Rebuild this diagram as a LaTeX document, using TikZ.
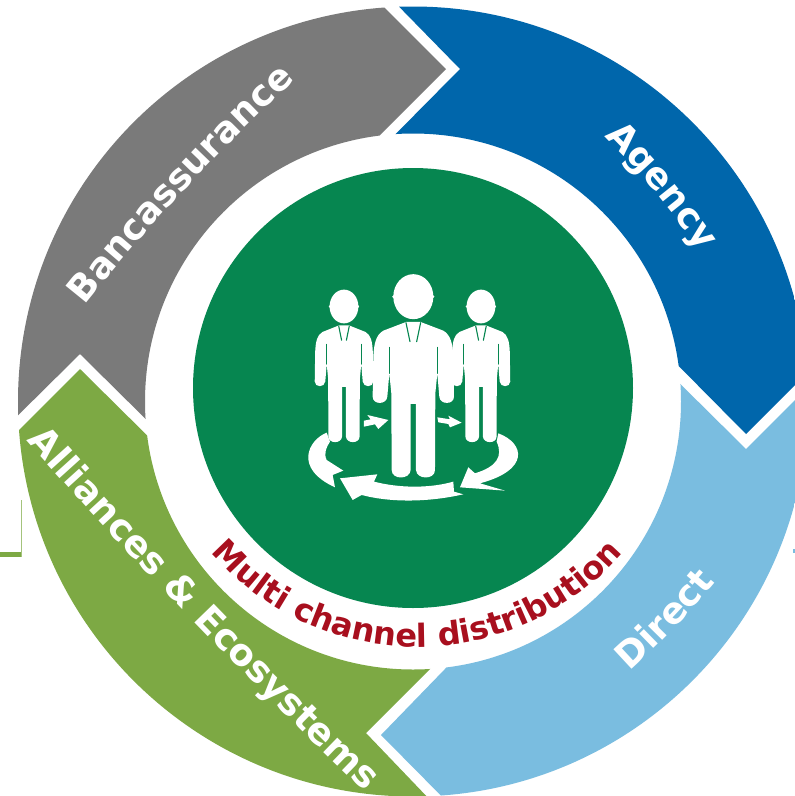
\documentclass[tikz,border=0pt]{standalone}
\usepackage{fontspec}
\setmainfont{DejaVu Sans}
\font\ringbig="DejaVu Sans Bold" at 36.5pt
\font\ringlong="DejaVu Sans Bold" at 37pt
\font\ringsmall="DejaVu Sans Bold" at 32pt
\usetikzlibrary{calc}
\definecolor{cgray}{HTML}{7A7A7A}
\definecolor{cblue}{HTML}{0066AB}
\definecolor{clight}{HTML}{7ABDE0}
\definecolor{cgreen}{HTML}{7DA944}
\definecolor{cdisc}{HTML}{068650}
\definecolor{cred}{HTML}{A80F1E}
\tikzset{
  iconfill/.style={fill=white,draw=none},
  slit/.style={draw=cdisc,line width=1.1pt,line cap=round},
  glyph/.style={inner sep=0pt,outer sep=0pt,anchor=base}
}
\newlength{\glyphw}
% \arcword{cx,cy}{radius}{centre angle}{dir: -1 cw, tops out; 1 ccw, tops in}{font}{colour}{char list}
\newcommand{\arcword}[7]{%
  \gdef\arcsum{0}%
  \foreach \ch in {#7}{%
    \glyphw=\fontcharwd#5\expandafter`\ch\relax
    \pgfmathsetmacro{\tmpv}{\arcsum+\glyphw}%
    \xdef\arcsum{\tmpv}%
  }%
  \pgfmathsetmacro{\tmpv}{#3-(#4)*\arcsum/2/#2*57.29578}%
  \xdef\arcang{\tmpv}%
  \foreach \ch in {#7}{%
    \glyphw=\fontcharwd#5\expandafter`\ch\relax
    \pgfmathsetmacro{\midang}{\arcang+(#4)*\glyphw/2/#2*57.29578}%
    \pgfmathsetmacro{\rotang}{\midang+(#4)*90}%
    \node[glyph,rotate=\rotang,text=#6] at ($(#1)+(\midang:#2pt)$) {#5\ch};
    \pgfmathsetmacro{\tmpv}{\arcang+(#4)*\glyphw/#2*57.29578}%
    \xdef\arcang{\tmpv}%
  }%
}
\newcommand{\manshape}{%
  \fill[iconfill] (0,110) ellipse[x radius=20pt,y radius=22.5pt];
  \fill[iconfill] (-59,110) circle[radius=1.5pt];
  \fill[iconfill] (59,110) circle[radius=1.5pt];
  \fill[iconfill] (-22,186) -- (-90,212) .. controls (-112,225) and (-118,250) .. (-120,290)
    -- (-122,410) .. controls (-122,435) and (-80,435) .. (-78,410)
    -- (-72,340) -- (-66,400) -- (-65,630) .. controls (-65,660) and (-10,660) .. (-8,630)
    -- (-8,432) -- (8,432) -- (8,630) .. controls (10,660) and (65,660) .. (65,630)
    -- (66,400) -- (72,340) -- (78,410) .. controls (80,435) and (122,435) .. (122,410)
    -- (120,290) .. controls (118,250) and (112,225) .. (90,212) -- (22,186) -- cycle;
  \draw[slit] (-72,262) -- (-72,340);
  \draw[slit] (72,262) -- (72,340);
  \draw[slit] (-22,188) -- (-10,245);
  \draw[slit] (22,188) -- (10,245);
}
\begin{document}
\begin{tikzpicture}[x=1pt,y=-1pt]
\useasboundingbox (0,0) rectangle (795,796);
\fill[white] (0,0) rectangle (795,796);
% stray marks at the edges
\fill[cgreen] (0,552) rectangle (21,557);
\fill[cgreen!70] (20.5,500) rectangle (21.5,557);
\fill[clight] (793,549) rectangle (795,553);
% ring segments
\begin{scope}[even odd rule]
\clip (0,0) rectangle (795,796);
\clip (413,401.5) circle[radius=395pt] (413,401.5) circle[radius=268pt];
\fill[cgray] (355,-22) -- (446,69) -- (350,165) -- (300,300) -- (175,448) -- (80,354) -- (-12,445) -- (-100,300) -- (0,-100) -- cycle;
\fill[cblue] (370,-23) -- (460,69) -- (367,163) -- (500,300) -- (650,337) -- (746,434) -- (850,330) -- (900,0) -- (500,-100) -- cycle;
\fill[clight] (650,354) -- (746,449) -- (850,345) -- (900,800) -- (500,890) -- (470,825) -- (381,735) -- (476,637) -- (550,500) -- cycle;
\fill[cgreen] (-10,459) -- (80,369) -- (177,465) -- (300,550) -- (460,639) -- (366,733) -- (455,826) -- (300,900) -- (-100,700) -- cycle;
\end{scope}
% disc
\fill[cdisc] (413,388) circle[radius=220pt];
% labels
\arcword{1646,1555}{2000}{136.9}{-1}{\ringbig}{white}{B,a,n,c,a,s,s,u,r,a,n,c,e}
\arcword{40.5,704}{800}{39.8}{-1}{\ringbig}{white}{A,g,e,n,c,y}
\arcword{96.7,74.6}{800}{-43.8}{1}{\ringbig}{white}{D,i,r,e,c,t}
\arcword{4510,-3546}{6000}{223.98}{1}{\ringlong}{white}{A,l,l,i,a,n,c,e,s,\ ,\&,\ ,E,c,o,s,y,s,t,e,m,s}
\arcword{417,375.4}{271.6}{-90}{1}{\ringsmall}{cred}{M,u,l,t,i,\ ,c,h,a,n,n,e,l,\ ,d,i,s,t,r,i,b,u,t,i,o,n}
% icon
\begin{scope}[shift={(280,260)},x=0.3333pt,y=-0.3333pt]
  \begin{scope}[shift={(192,57)},xscale=0.72,yscale=0.75]
    \manshape
  \end{scope}
  \begin{scope}[shift={(603,57)},xscale=0.72,yscale=0.75]
    \manshape
  \end{scope}
  \begin{scope}[shift={(400,0)}]
    \manshape
  \end{scope}
  \fill[iconfill] (252,482) -- (272,478) -- (262,465) -- (325,480) -- (295,507) -- (285,493) -- (252,500) -- cycle;
  \fill[iconfill] (472,472) -- (510,478) -- (505,467) -- (545,488) -- (510,502) -- (505,492) -- (475,487) -- cycle;
  \fill[iconfill] (140,518) .. controls (85,540) and (40,625) .. (165,682) -- (158,645) -- (190,632) -- (140,600) .. controls (130,580) and (140,560) .. (150,545) -- cycle;
  \fill[iconfill] (180,655) -- (292,643) -- (282,665) .. controls (360,685) and (450,685) .. (520,665) -- (522,695) -- (550,703) .. controls (430,730) and (320,725) .. (245,705) -- (218,720) -- cycle;
  \fill[iconfill] (655,520) .. controls (735,550) and (750,630) .. (600,670) -- (675,692) -- (540,682) -- (565,622) -- (585,640) .. controls (650,620) and (670,590) .. (650,545) -- cycle;
\end{scope}
\end{tikzpicture}
\end{document}
